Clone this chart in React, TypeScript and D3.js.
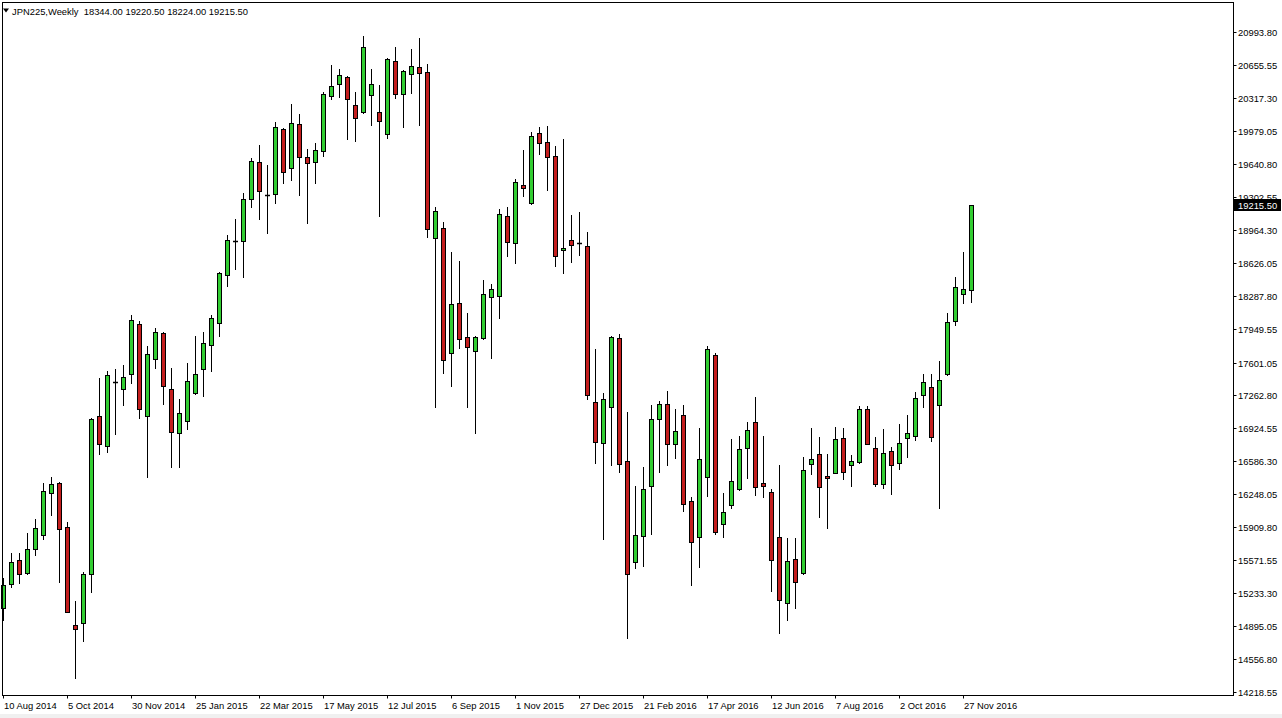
import React, { useEffect } from 'react';
import * as d3 from 'd3';

const W = 1282;
const H = 718;

const symbolTitle = 'JPN225,Weekly';
const firstWeek = new Date(Date.UTC(2014, 7, 10));

const opens = [15081, 15327, 15574, 15440, 15686, 15830, 16261, 16364, 15912, 14906, 14927, 15430, 17052, 16744, 17401, 17329, 17483, 17996, 17052, 17637, 17904, 17329, 16877, 17000, 17288, 17534, 17781, 18006, 18499, 18848, 18848, 19279, 19659, 19320, 19330, 19998, 19597, 20049, 19710, 19659, 19772, 20337, 20460, 20532, 20244, 20172, 20347, 20172, 19946, 20696, 20357, 20562, 20634, 20583, 18879, 18982, 17698, 18212, 17863, 17719, 17852, 18273, 18284, 19105, 18828, 19423, 19238, 19957, 19864, 19721, 18756, 18858, 18828, 18797, 17196, 16775, 17144, 17852, 16590, 15553, 15820, 16333, 17021, 17175, 16764, 17062, 16179, 15810, 16426, 17678, 15943, 16138, 16302, 16723, 16990, 16364, 16272, 15810, 15132, 15584, 15440, 16559, 16662, 16436, 16467, 16826, 16549, 16580, 17124, 16723, 16354, 16692, 16569, 16826, 16846, 17267, 17349, 17165, 17483, 18027, 18304, 18344];
const highs = [15389, 15645, 15645, 15851, 15994, 16364, 16426, 16375, 15964, 15153, 15450, 17031, 17442, 17514, 17534, 17575, 18089, 18027, 17770, 17955, 17914, 17544, 17226, 17596, 17873, 17914, 18089, 18530, 18910, 19074, 19341, 19700, 19834, 19628, 20070, 20005, 20254, 20152, 19792, 19854, 20378, 20655, 20614, 20540, 20378, 20952, 20614, 20450, 20727, 20840, 20604, 20819, 20932, 20665, 19197, 19043, 18735, 18643, 18109, 17870, 18448, 18407, 19176, 19197, 19485, 19782, 19967, 20018, 20028, 19823, 19895, 19115, 19146, 18941, 17740, 17288, 17870, 17893, 17093, 16333, 16528, 17165, 17206, 17308, 17124, 17165, 16220, 16929, 17770, 17698, 16261, 16816, 16846, 16990, 17247, 16846, 16302, 16549, 15799, 15799, 16631, 16929, 16836, 16662, 16939, 16929, 16651, 17154, 17154, 16836, 16918, 16733, 16970, 17062, 17298, 17483, 17483, 17616, 18109, 18479, 18735, 19220.5];
const lows = [14958, 15296, 15337, 15430, 15625, 15789, 16036, 15348, 15035, 14362, 14742, 15245, 16662, 16682, 16867, 17165, 17390, 17031, 16426, 17544, 17175, 16528, 16528, 16918, 17280, 17257, 17514, 17873, 18386, 18561, 18479, 19197, 19074, 18930, 19238, 19443, 19474, 19320, 19033, 19443, 19721, 20306, 20327, 19895, 19875, 20162, 20039, 19105, 19905, 20316, 20018, 20368, 20039, 18889, 17144, 17493, 17360, 17750, 17144, 16877, 17842, 17647, 18058, 18694, 18622, 19310, 19230, 19741, 19372, 18592, 18520, 18633, 18704, 17226, 16569, 15789, 16549, 16477, 14773, 15491, 15512, 15841, 16477, 16549, 16621, 16077, 15317, 15501, 16231, 15841, 15810, 16107, 16292, 16415, 16240, 16220, 15255, 14824, 14958, 15081, 15430, 16456, 16015, 15902, 16467, 16405, 16333, 16569, 16760, 16333, 16313, 16251, 16508, 16631, 16805, 17144, 16795, 16107, 17473, 17986, 18212, 18224];
const closes = [15317, 15553, 15430, 15686, 15902, 16282, 16354, 15892, 15040, 14865, 15430, 17021, 16764, 17473, 17401, 17452, 18037, 17124, 17688, 17914, 17360, 16888, 17083, 17411, 17483, 17801, 18058, 18520, 18858, 18848, 19279, 19669, 19361, 19320, 20018, 19556, 20059, 19710, 19649, 19782, 20357, 20439, 20552, 20306, 20111, 20840, 20460, 20080, 20716, 20357, 20593, 20644, 20573, 18971, 19156, 17627, 18201, 17842, 17760, 17863, 18304, 18356, 19125, 18838, 19454, 19392, 19926, 19854, 19710, 18694, 18776, 18807, 18828, 17267, 16785, 17226, 17863, 16559, 15430, 15830, 16302, 17021, 17175, 16764, 16898, 16148, 15758, 16610, 17740, 15861, 16066, 16385, 16713, 16908, 16323, 16333, 15574, 15163, 15563, 15348, 16497, 16610, 16323, 16415, 16816, 16477, 16590, 17124, 16764, 16354, 16672, 16549, 16775, 16877, 17237, 17401, 16836, 17421, 18017, 18376, 18356, 19215.5];

const priceLabels = ['20993.80', '20655.55', '20317.30', '19979.05', '19640.80', '19302.55', '18964.30', '18626.05', '18287.80', '17949.55', '17601.05', '17262.80', '16924.55', '16586.30', '16248.05', '15909.80', '15571.55', '15233.30', '14895.05', '14556.80', '14218.55'];

const FONT = "'Liberation Sans', Arial, sans-serif";
const FS = 9.4;
const UP = '#32CD32';
const DOWN = '#C41E1E';

export default function App() {
  useEffect(() => {
    document.body.style.margin = '0';
  }, []);

  const n = opens.length;
  const weeks = d3.utcSunday.range(firstWeek, d3.utcSunday.offset(firstWeek, n));
  const x = d3.scaleBand<Date>().domain(weeks).range([-0.5, -0.5 + 8 * n]).padding(0);
  const y = d3.scaleLinear().domain([14188, 21297]).range([695, 2.5]);
  const fmt = d3.utcFormat('%-d %b %Y');

  const plotLeft = 2.5;
  const plotTop = 2.5;
  const plotRight = 1233.5;
  const plotBottom = 695.5;

  const cx = (i: number) => Math.floor((x(weeks[i]) as number) + x.bandwidth() / 2) + 0.5;
  const py = (v: number) => Math.round(y(v));

  const lastClose = closes[n - 1];
  const lastY = y(lastClose);

  const titleValues = [opens[n - 1], highs[n - 1], lows[n - 1], closes[n - 1]].map((v) => v.toFixed(2)).join(' ');

  return (
    <svg width={W} height={H} style={{ position: 'absolute', left: 0, top: 0, background: '#fff', display: 'block' }}>
      <rect x={0} y={0} width={W} height={H} fill="#fff" />
      <rect x={0} y={714} width={W} height={4} fill="#f0f0f0" />
      {/* candles */}
      <g>
        {weeks.map((d, i) => {
          const o = opens[i];
          const c = closes[i];
          const h = highs[i];
          const l = lows[i];
          const xc = cx(i);
          const top = py(Math.max(o, c));
          const bot = py(Math.min(o, c));
          const isDoji = bot - top < 1;
          return (
            <g key={i}>
              <line x1={xc} x2={xc} y1={py(h)} y2={py(l) + 1} stroke="#000" strokeWidth={1} />
              {isDoji ? (
                <line x1={xc - 2.5} x2={xc + 2.5} y1={top + 0.5} y2={top + 0.5} stroke="#000" strokeWidth={1.5} />
              ) : (
                <rect x={xc - 2} y={top + 0.5} width={4} height={bot - top} fill={c >= o ? UP : DOWN} stroke="#000" strokeWidth={1} />
              )}
            </g>
          );
        })}
      </g>
      {/* frame */}
      <rect x={plotLeft} y={plotTop} width={plotRight - plotLeft} height={plotBottom - plotTop} fill="none" stroke="#000" strokeWidth={1} />
      {/* price axis */}
      <g fontFamily={FONT} fontSize={FS} fill="#000">
        {priceLabels.map((lab) => {
          const ty = Math.round(y(parseFloat(lab))) + 0.5;
          return (
            <g key={lab}>
              <line x1={plotRight} x2={plotRight + 3} y1={ty} y2={ty} stroke="#000" />
              <text x={1238} y={ty} dominantBaseline="central">{lab}</text>
            </g>
          );
        })}
        <rect x={1234} y={Math.round(lastY) - 6} width={47} height={12} fill="#000" />
        <text x={1238} y={Math.round(lastY) + 0.5} dominantBaseline="central" fill="#fff">{lastClose.toFixed(2)}</text>
      </g>
      {/* time axis */}
      <g fontFamily={FONT} fontSize={FS} fill="#000">
        {weeks.map((d, i) =>
          i % 8 === 0 ? (
            <g key={i}>
              <line x1={cx(i)} x2={cx(i)} y1={plotBottom} y2={plotBottom + 3} stroke="#000" />
              <text x={cx(i) + 0.5} y={705} dominantBaseline="central">{fmt(d)}</text>
            </g>
          ) : null
        )}
      </g>
      {/* title */}
      <path d="M3,8.5 L9,8.5 L6,12.5 Z" fill="#000" />
      <text x={12} y={11} dominantBaseline="central" fontFamily={FONT} fontSize={FS} fill="#000" style={{ whiteSpace: 'pre' }}>
        {symbolTitle + '  ' + titleValues}
      </text>
    </svg>
  );
}
